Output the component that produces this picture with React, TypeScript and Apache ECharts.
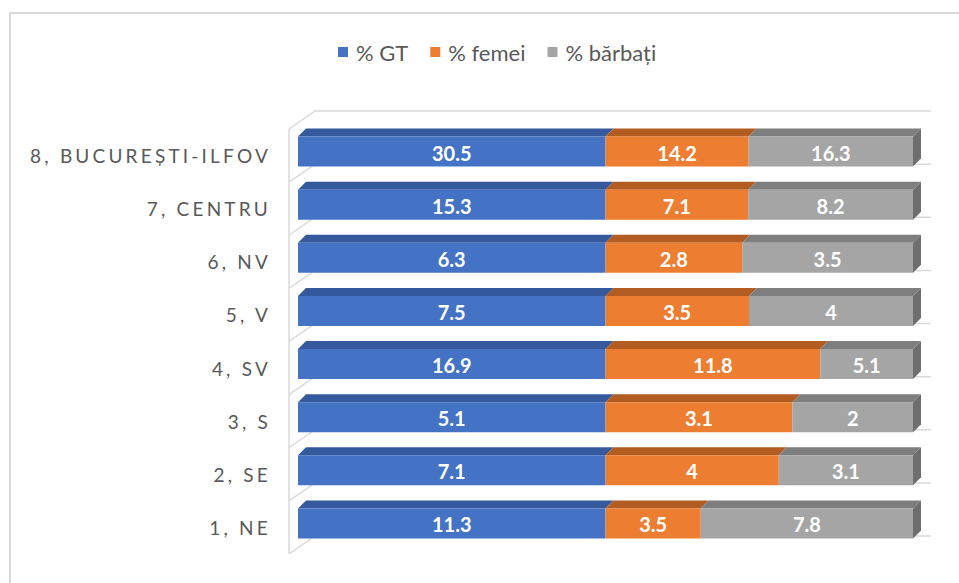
import React, { useEffect, useRef } from "react";
import * as echarts from "echarts";

const categories = [
  "1, NE",
  "2, SE",
  "3, S",
  "4, SV",
  "5, V",
  "6, NV",
  "7, CENTRU",
  "8, BUCUREȘTI-ILFOV",
];
const seriesNames = ["% GT", "% femei", "% bărbați"];
const gt = [11.3, 7.1, 5.1, 16.9, 7.5, 6.3, 15.3, 30.5];
const femei = [3.5, 4, 3.1, 11.8, 3.5, 2.8, 7.1, 14.2];
const barbati = [7.8, 3.1, 2, 5.1, 4, 3.5, 8.2, 16.3];

const frontColors = ["#4472C4", "#ED7D31", "#A5A5A5"];
const topColors = ["#34599C", "#B35C22", "#7E7E7E"];
const sideColor = "#6E6E6E";
const FONT = "Lato, 'Open Sans', sans-serif";

export default function App() {
  const ref = useRef<HTMLDivElement>(null);

  useEffect(() => {
    if (!ref.current) return;
    const chart = echarts.init(ref.current, undefined, { renderer: "svg" });

    const values = [gt, femei, barbati];
    // 100% stacked: build [catIdx, startPct, endPct, raw]
    const stacked = values.map((arr, s) =>
      arr.map((v, i) => {
        const total = gt[i] + femei[i] + barbati[i];
        let start = 0;
        for (let k = 0; k < s; k++) start += values[k][i];
        return [i, (start / total) * 100, ((start + v) / total) * 100, v];
      })
    );

    const BAR_H = 30;
    const BAR_SHIFT = -4;
    const D = 8;

    const makeBarSeries = (s: number) => ({
      type: "custom",
      name: seriesNames[s],
      itemStyle: { color: frontColors[s] },
      encode: { y: 0, x: [1, 2] },
      data: stacked[s],
      z: 5 + s,
      silent: true,
      renderItem: (params: any, api: any) => {
        const ci = api.value(0);
        const st = api.value(1);
        const en = api.value(2);
        const raw = api.value(3);
        const p0 = api.coord([st, ci]);
        const p1 = api.coord([en, ci]);
        const yc = p0[1] + BAR_SHIFT;
        const top = yc - BAR_H / 2;
        const bot = yc + BAR_H / 2;
        const x0 = p0[0];
        const x1 = p1[0];
        const children: any[] = [
          {
            type: "polygon",
            shape: {
              points: [
                [x0, top],
                [x1, top],
                [x1 + D, top - D],
                [x0 + D, top - D],
              ],
            },
            style: { fill: topColors[s] },
          },
          {
            type: "rect",
            shape: { x: x0, y: top, width: x1 - x0, height: BAR_H },
            style: { fill: frontColors[s] },
          },
        ];
        if (s === 2) {
          children.push({
            type: "polygon",
            shape: {
              points: [
                [x1, top],
                [x1 + D, top - D],
                [x1 + D, bot - D],
                [x1, bot],
              ],
            },
            style: { fill: sideColor },
          });
        }
        children.push({
          type: "text",
          style: {
            text: String(raw),
            x: (x0 + x1) / 2,
            y: yc + 1,
            align: "center",
            verticalAlign: "middle",
            fill: "#FFFFFF",
            fontSize: 20,
            fontWeight: "bold",
            fontFamily: FONT,
          },
        });
        return { type: "group", children };
      },
    });

    const wallSeries = {
      type: "custom",
      name: "wall",
      encode: { y: 0, x: 1 },
      data: categories.map((_, i) => [i, 0]),
      z: 1,
      silent: true,
      renderItem: (params: any, api: any) => {
        const ci = api.value(0);
        const p = api.coord([0, ci]);
        const pr = api.coord([100, ci]);
        const band = api.size([0, 1])[1];
        const fx = p[0] - 9;
        const dx = 26;
        const dy = -18;
        const backRight = pr[0] + 18;
        const ys = [p[1] + band / 2];
        if (ci === categories.length - 1) ys.push(p[1] - band / 2);
        const children: any[] = [];
        const st = { stroke: "#D9D9D9", lineWidth: 1.5, fill: null };
        ys.forEach((y) => {
          children.push({
            type: "polyline",
            shape: {
              points: [
                [fx, y],
                [fx + dx, y + dy],
                [backRight, y + dy],
              ],
            },
            style: st,
          });
        });
        children.push({
          type: "line",
          shape: { x1: fx, y1: p[1] - band / 2, x2: fx, y2: p[1] + band / 2 },
          style: st,
        });
        return { type: "group", children };
      },
    };

    chart.setOption({
      animation: false,
      backgroundColor: "#FFFFFF",
      textStyle: { fontFamily: FONT },
      legend: {
        data: seriesNames.map((n, i) => ({ name: n, icon: "rect", itemStyle: { color: frontColors[i] } })),
        left: 333,
        top: 36,
        itemWidth: 10,
        itemHeight: 10,
        itemGap: 22,
        selectedMode: false,
        textStyle: {
          fontSize: 22,
          color: "#595959",
          fontFamily: FONT,
          padding: [0, 0, 0, 3],
        },
      },
      grid: { left: 298, right: 46, top: 129, bottom: 29, containLabel: false },
      xAxis: {
        type: "value",
        min: 0,
        max: 100,
        show: false,
      },
      yAxis: {
        type: "category",
        data: categories,
        axisLine: { show: false },
        axisTick: { show: false },
        splitLine: { show: false },
        axisLabel: {
          color: "#595959",
          fontSize: 19,
          fontFamily: FONT,
          margin: 27,
        },
      },
      graphic: [
        {
          type: "line",
          shape: { x1: 9, y1: 13, x2: 959, y2: 13 },
          style: { stroke: "#D9D9D9", lineWidth: 2 },
          silent: true,
        },
        {
          type: "line",
          shape: { x1: 10, y1: 13, x2: 10, y2: 583 },
          style: { stroke: "#D9D9D9", lineWidth: 2 },
          silent: true,
        },
      ],
      series: [wallSeries, makeBarSeries(0), makeBarSeries(1), makeBarSeries(2)],
    });

    const catSet = new Set(categories);
    const applySpacing = () => {
      if (!ref.current) return;
      ref.current.querySelectorAll("text").forEach((t) => {
        if (catSet.has((t.textContent || "").trim())) {
          t.setAttribute("letter-spacing", "3.2");
          (t as SVGTextElement).style.letterSpacing = "3.2px";
        }
      });
    };
    applySpacing();
    chart.on("finished", applySpacing);
    const raf = requestAnimationFrame(applySpacing);

    return () => {
      cancelAnimationFrame(raf);
      chart.dispose();
    };
  }, []);

  return (
    <div
      ref={ref}
      style={{ position: "fixed", left: 0, top: 0, width: 959, height: 583, background: "#fff" }}
    />
  );
}
